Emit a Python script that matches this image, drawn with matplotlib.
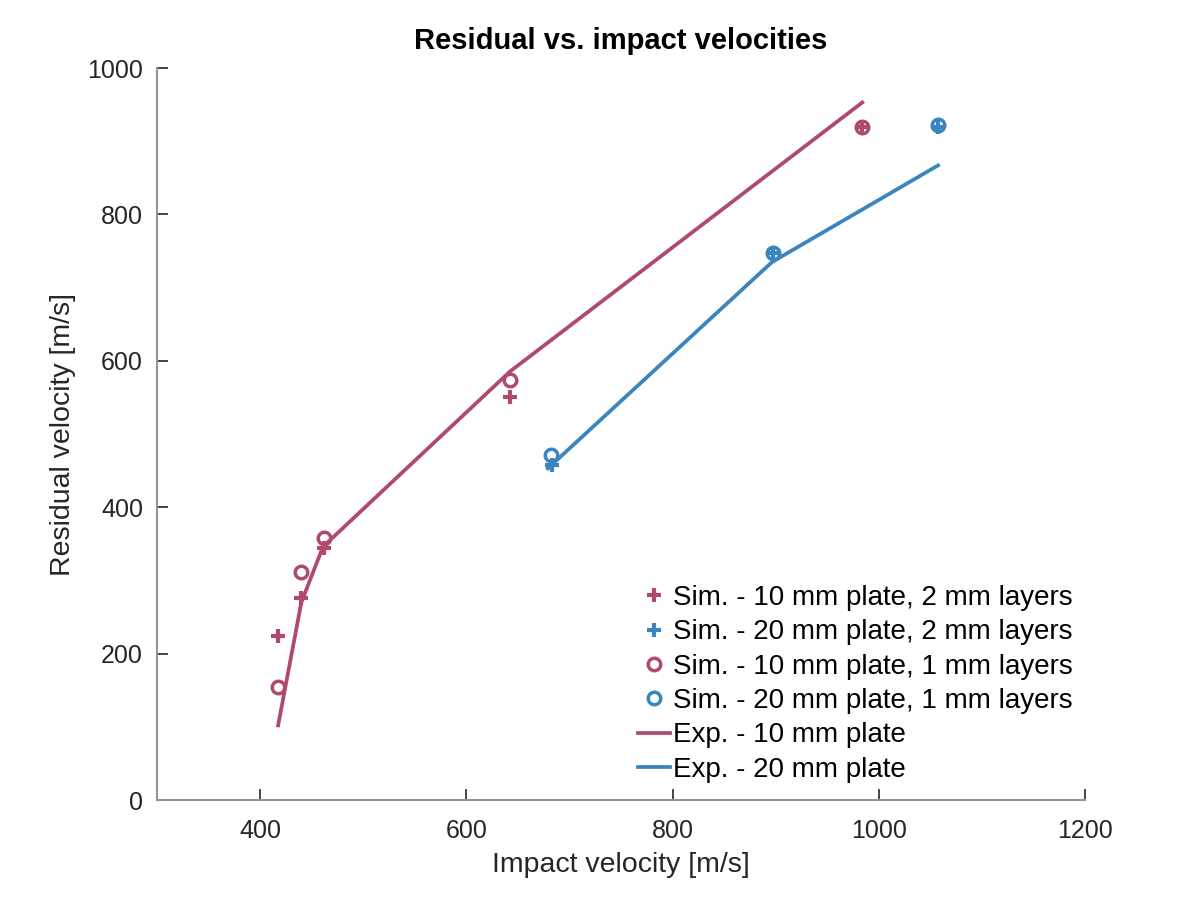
import matplotlib
matplotlib.use('Agg')
import matplotlib.pyplot as plt

# colours
red = '#B04A6B'
blue = '#3A85BD'

# simulation points, 2 mm layers
sim10_2mm_x = [417.5, 440, 462, 642, 984]
sim10_2mm_y = [224, 276, 344, 550, 919]
sim20_2mm_x = [683, 897, 1057]
sim20_2mm_y = [458, 747, 919]

# simulation points, 1 mm layers
sim10_1mm_x = [417.5, 440, 462, 642, 984]
sim10_1mm_y = [154, 311, 358, 574, 919]
sim20_1mm_x = [682, 897, 1057]
sim20_1mm_y = [471, 747, 922]

# experiments
exp10_x = [417.5, 440, 461, 642, 984]
exp10_y = [102, 270, 346, 585, 953]
exp20_x = [679, 896.5, 1057.5]
exp20_y = [453, 735, 867]

plt.rcParams['font.family'] = ['Liberation Sans', 'DejaVu Sans']

fig = plt.figure(figsize=(12, 9), dpi=100)
ax = fig.add_axes([0.1308, 0.1111, 0.7734, 0.8133])

ax.plot(sim10_2mm_x, sim10_2mm_y, linestyle='none', marker='+', markersize=10,
        markeredgewidth=3, color=red, label='Sim. - 10 mm plate, 2 mm layers')
ax.plot(sim20_2mm_x, sim20_2mm_y, linestyle='none', marker='+', markersize=10,
        markeredgewidth=3, color=blue, label='Sim. - 20 mm plate, 2 mm layers')
ax.plot(sim10_1mm_x, sim10_1mm_y, linestyle='none', marker='o', markersize=9,
        markeredgewidth=2.5, markerfacecolor='none', color=red,
        label='Sim. - 10 mm plate, 1 mm layers')
ax.plot(sim20_1mm_x, sim20_1mm_y, linestyle='none', marker='o', markersize=9,
        markeredgewidth=2.5, markerfacecolor='none', color=blue,
        label='Sim. - 20 mm plate, 1 mm layers')
ax.plot(exp10_x, exp10_y, color=red, linewidth=2.7, label='Exp. - 10 mm plate')
ax.plot(exp20_x, exp20_y, color=blue, linewidth=2.7, label='Exp. - 20 mm plate')

ax.set_xlim(300, 1200)
ax.set_ylim(0, 1000)
ax.set_xticks([400, 600, 800, 1000, 1200])
ax.set_yticks([0, 200, 400, 600, 800, 1000])

ax.spines['top'].set_visible(False)
ax.spines['right'].set_visible(False)
for s in ['left', 'bottom']:
    ax.spines[s].set_color('#969696')
    ax.spines[s].set_linewidth(1.5)
ax.tick_params(direction='in', length=8, width=1.2, color='#262626',
               labelsize=18, labelcolor='#262626')
ax.tick_params(axis='x', pad=14)
ax.tick_params(axis='y', pad=10)

ax.set_xlabel('Impact velocity [m/s]', fontsize=20.5, color='#262626', labelpad=6)
ax.set_ylabel('Residual velocity [m/s]', fontsize=20.5, color='#262626', labelpad=8)
ax.set_title('Residual vs. impact velocities', fontsize=21, fontweight='bold', pad=14)

ax.legend(loc='lower right', bbox_to_anchor=(1.0075, -0.003), frameon=False,
          fontsize=20, handlelength=1.15, handletextpad=0.1, labelspacing=0.3,
          borderaxespad=0.3)

fig.savefig('out.png')
